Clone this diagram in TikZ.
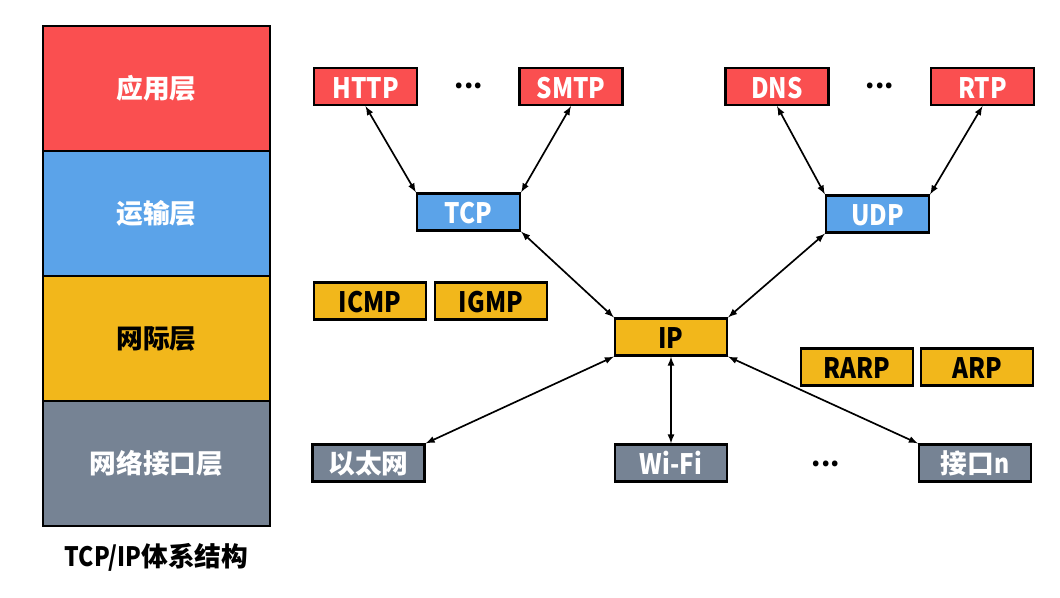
\documentclass[tikz,border=0pt]{standalone}
\usepackage{fontspec}
\setmainfont{Noto Sans CJK SC}
\newfontfamily\latn{Noto Sans CJK SC}[FakeStretch=0.86]
\definecolor{appred}{HTML}{FA4F50}
\definecolor{tpblue}{HTML}{5BA3E9}
\definecolor{netyellow}{HTML}{F2B71B}
\definecolor{ifgray}{HTML}{768394}
\tikzset{
  >=latex,
}
\tikzstyle{every node}=[font=\fontsize{19}{22}\selectfont\bfseries]
\tikzstyle{layer}=[draw,line width=1.6pt,minimum width=5.675cm,minimum height=3.125cm,text=white]
\tikzstyle{proto}=[draw,line width=1.6pt,minimum width=2.575cm,minimum height=0.925cm,inner sep=0pt,
  text height=17pt,text depth=0pt,text=white,font=\fontsize{20}{22}\selectfont\bfseries\latn]
\tikzstyle{wide}=[proto,minimum width=2.8cm]
\tikzstyle{cjkbox}=[wide,fill=ifgray,text height=15pt,font=\fontsize{19}{22}\selectfont\bfseries]
\tikzstyle{link}=[line width=1.2pt,<->]

\begin{document}
\begin{tikzpicture}[x=0.025cm,y=-0.025cm]
    \useasboundingbox (0,0) rectangle (1060,598);
    % layers
    \node[layer,fill=appred] (app) at (156.5,88.5) {应用层};
    \node[layer,fill=tpblue] (trans) at (156.5,213.5) {运输层};
    \node[layer,fill=netyellow,text=black] (inet) at (156.5,338.5) {网际层};
    \node[layer,fill=ifgray] (netif) at (156.5,463.5) {网络接口层};
    \node (title) at (156.5,557) {{\latn TCP/IP}体系结构};
    % application protocols
    \node[proto,fill=appred] (http) at (365.5,86.5) {HTTP};
    \node (dotsa) at (469,86) {...};
    \node[proto,fill=appred] (smtp) at (571,86.5) {SMTP};
    \node[proto,fill=appred] (dns) at (777,86.5) {DNS};
    \node (dotsb) at (880,86) {...};
    \node[proto,fill=appred] (rtp) at (982.5,86.5) {RTP};
    % transport
    \node[proto,fill=tpblue] (tcp) at (468.5,212) {TCP};
    \node[proto,fill=tpblue] (udp) at (877.5,214) {UDP};
    % internet
    \node[wide,fill=netyellow,text=black] (icmp) at (370,301) {ICMP};
    \node[wide,fill=netyellow,text=black] (igmp) at (491,301) {IGMP};
    \node[wide,fill=netyellow,text=black] (ip) at (671,337) {IP};
    \node[wide,fill=netyellow,text=black] (rarp) at (857,367) {RARP};
    \node[wide,fill=netyellow,text=black] (arp) at (977,367) {ARP};
    % network interface
    \node[cjkbox] (eth) at (368.5,463) {以太网};
    \node[wide,fill=ifgray] (wifi) at (671,463) {Wi-Fi};
    \node (dotsc) at (826,464) {...};
    \node[cjkbox] (ifn) at (975,463) {接口{\latn n}};
    % links
    \draw[link] (http.south) -- (tcp.north west);
    \draw[link] (smtp.south) -- (tcp.north east);
    \draw[link] (dns.south) -- (udp.north west);
    \draw[link] (rtp.south) -- (udp.north east);
    \draw[link] (tcp.south east) -- (ip.north west);
    \draw[link] (udp.south west) -- (ip.north east);
    \draw[link] (ip.south west) -- (eth.north east);
    \draw[link] (ip.south) -- (wifi.north);
    \draw[link] (ip.south east) -- (ifn.north west);
  \end{tikzpicture}
\end{document}
